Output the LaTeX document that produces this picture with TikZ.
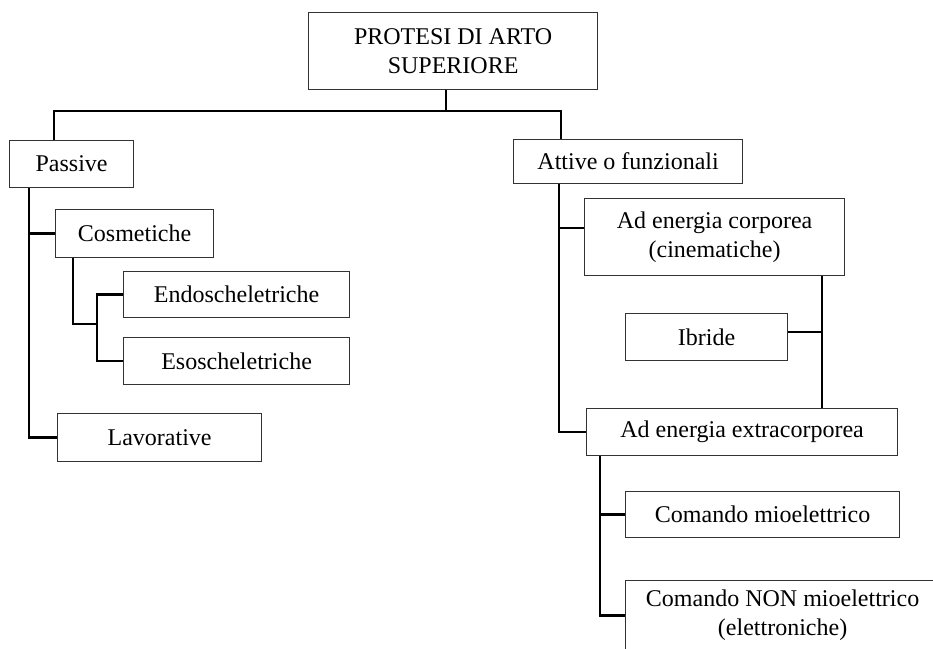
\documentclass[tikz,border=0pt]{standalone}
\usepackage{fontspec}
\setmainfont{Liberation Serif}
\begin{document}
\begin{tikzpicture}[x=1pt,y=-1pt,
  box/.style={draw=black!80,line width=1.2pt,anchor=north west,inner sep=0pt,
    align=center,font=\fontsize{24}{29}\selectfont},
  conn/.style={draw=black,line width=2.6pt,line join=miter}]
\clip (0,0) rectangle (933,648);
\fill[white] (0,0) rectangle (933,648);
% boxes
\node[box,minimum width=289pt,minimum height=77pt] (top) at (308,12) {PROTESI DI ARTO\\SUPERIORE};
\node[box,minimum width=124pt,minimum height=47pt] (passive) at (9,140) {Passive};
\node[box,minimum width=229pt,minimum height=44pt] (attive) at (513,139) {Attive o funzionali};
\node[box,minimum width=158pt,minimum height=48pt] (cosm) at (55,209) {Cosmetiche};
\node[box,minimum width=226pt,minimum height=46pt] (endo) at (123,271) {Endoscheletriche};
\node[box,minimum width=226pt,minimum height=47pt] (eso) at (123,337) {Esoscheletriche};
\node[box,minimum width=204pt,minimum height=48pt] (lav) at (57,413) {Lavorative};
\node[box,minimum width=260pt,minimum height=77pt] (corp) at (584,198) {Ad energia corporea\\(cinematiche)};
\node[box,minimum width=162pt,minimum height=47pt] (ibride) at (625,313) {Ibride};
\node[box,minimum width=311pt,minimum height=47pt] (extra) at (586,408) {Ad energia extracorporea};
\node[box,minimum width=274pt,minimum height=46pt] (mio) at (625,491) {Comando mioelettrico};
\node[box,minimum width=314pt,minimum height=70pt] (non) at (625,580) {Comando NON mioelettrico\\(elettroniche)};
% junction coordinates
\coordinate (j0) at (446,111);
\coordinate (pd) at (54,111);
\coordinate (ad) at (561,111);
\coordinate (ps) at (29,0);
\coordinate (cs) at (73,324);
\coordinate (cj) at (97,324);
\coordinate (as) at (559,228);
\coordinate (rs) at (822,332);
\coordinate (es) at (600,0);
% connectors
\draw[conn] (j0 |- top.south) -- (j0);
\draw[conn] (pd |- passive.north) -- (pd) -- (ad) -- (ad |- attive.north);
\draw[conn] (ps |- passive.south) -- (ps |- lav.west) -- (lav.west);
\draw[conn] (ps |- cosm.west) -- (cosm.west);
\draw[conn] (cs |- cosm.south) -- (cs) -- (cj);
\draw[conn] (endo.west) -- (cj |- endo.west) -- (cj |- eso.west) -- (eso.west);
\draw[conn] (as |- attive.south) -- (as |- extra.west) -- (extra.west);
\draw[conn] (as) -- (as -| corp.west);
\draw[conn] (rs |- corp.south) -- (rs |- extra.north);
\draw[conn] (rs) -- (rs -| ibride.east);
\draw[conn] (es |- extra.south) -- (es |- non.west) -- (non.west);
\draw[conn] (es |- mio.west) -- (mio.west);
\end{tikzpicture}
\end{document}
